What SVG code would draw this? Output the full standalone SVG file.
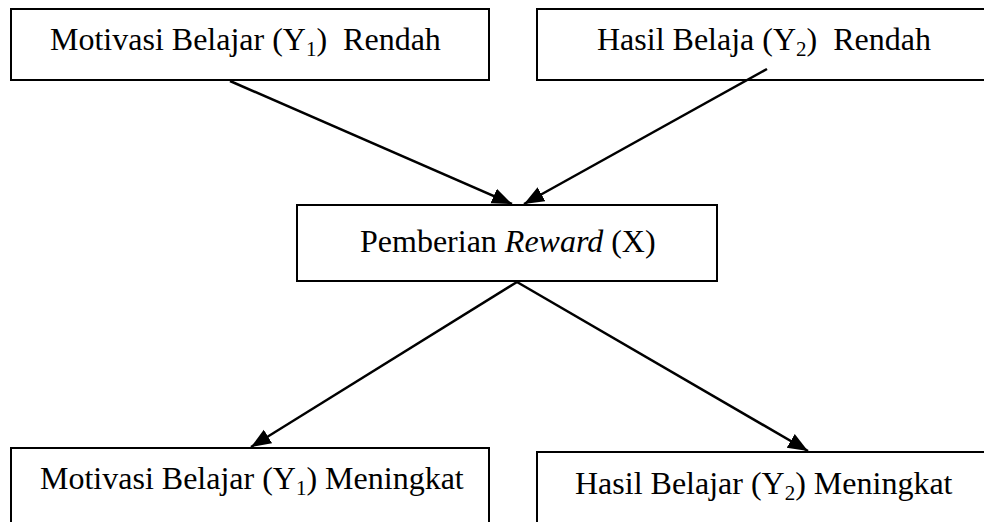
<svg xmlns="http://www.w3.org/2000/svg" width="984" height="522" viewBox="0 0 984 522">
<style>
.box{fill:#fff;stroke:#000;stroke-width:2}
.t{font-family:"Liberation Serif","Times New Roman",serif;font-size:32px;fill:#000}
.sub{font-size:21px}
.edge{stroke:#000;stroke-width:2.5;fill:none}
</style>
<defs>
<marker id="ah" markerUnits="userSpaceOnUse" markerWidth="22" markerHeight="18" refX="20" refY="9" orient="auto">
<path d="M0,1 L20,9 L0,17 Z" fill="#000"/>
</marker>
</defs>
<rect width="984" height="522" fill="#fff"/>
<g id="n1">
<rect class="box" x="11" y="9" width="478" height="71"/>
<text class="t" x="50" y="50" xml:space="preserve">Motivasi Belajar (Y<tspan class="sub" dy="6">1</tspan><tspan dy="-6">)  Rendah</tspan></text>
</g>
<g id="n2">
<rect class="box" x="537" y="9" width="460" height="71"/>
<text class="t" x="597" y="50" xml:space="preserve">Hasil Belaja (Y<tspan class="sub" dy="6">2</tspan><tspan dy="-6">)  Rendah</tspan></text>
</g>
<g id="n3">
<rect class="box" x="297" y="205" width="420" height="76"/>
<text class="t" x="360" y="252">Pemberian <tspan font-style="italic">Reward</tspan> (X)</text>
</g>
<g id="n4">
<rect class="box" x="11" y="448" width="478" height="90"/>
<text class="t" x="40" y="489">Motivasi Belajar (Y<tspan class="sub" dy="6">1</tspan><tspan dy="-6">) Meningkat</tspan></text>
</g>
<g id="n5">
<rect class="box" x="537" y="452" width="460" height="90"/>
<text class="t" x="575" y="494">Hasil Belajar (Y<tspan class="sub" dy="6">2</tspan><tspan dy="-6">) Meningkat</tspan></text>
</g>
<g id="connectors">
<line class="edge" x1="230" y1="81" x2="512" y2="204" marker-end="url(#ah)"/>
<line class="edge" x1="767" y1="69" x2="524" y2="204" marker-end="url(#ah)"/>
<line class="edge" x1="517" y1="282" x2="251" y2="447" marker-end="url(#ah)"/>
<line class="edge" x1="517" y1="282" x2="808" y2="451" marker-end="url(#ah)"/>
</g>
</svg>
